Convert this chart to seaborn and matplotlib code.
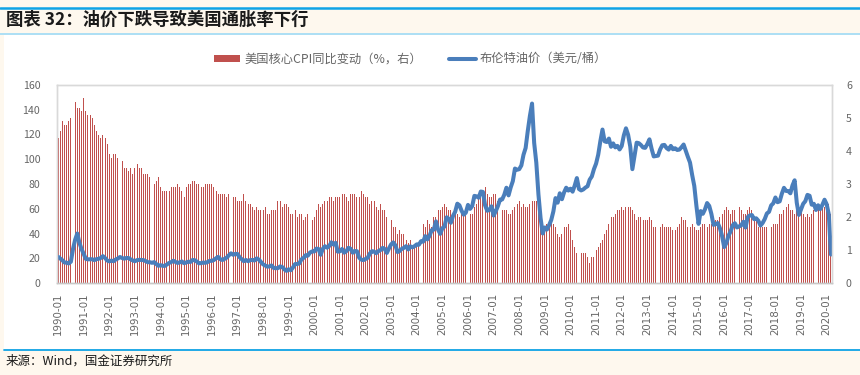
import numpy as np
import pandas as pd
import matplotlib
matplotlib.use('Agg')
import matplotlib.pyplot as plt
import seaborn as sns
from matplotlib.patches import Patch, Rectangle
from matplotlib.lines import Line2D

# monthly, 1990-01 .. 2020-03
start_year = 1990
# US core CPI yoy (%), right axis
core_cpi = [
    4.4, 4.6, 4.9, 4.8, 4.8, 4.9, 5.0, 5.5, 5.5, 5.3, 5.3, 5.2,   # 1990
    5.6, 5.2, 5.1, 5.1, 5.0, 4.8, 4.6, 4.5, 4.4, 4.5, 4.4, 4.2,   # 1991
    3.9, 3.8, 3.9, 3.9, 3.8, 3.8, 3.7, 3.5, 3.5, 3.4, 3.5, 3.3,   # 1992
    3.5, 3.6, 3.5, 3.5, 3.3, 3.3, 3.3, 3.2, 3.2, 3.0, 3.1, 3.2,   # 1993
    2.9, 2.8, 2.8, 2.8, 2.8, 2.9, 2.9, 2.9, 3.0, 2.9, 2.8, 2.6,   # 1994
    2.9, 3.0, 3.0, 3.1, 3.1, 3.0, 3.0, 2.9, 2.9, 3.0, 3.0, 3.0,   # 1995
    3.0, 2.9, 2.8, 2.7, 2.7, 2.7, 2.7, 2.6, 2.7, 2.6, 2.6, 2.6,   # 1996
    2.5, 2.5, 2.5, 2.7, 2.5, 2.4, 2.4, 2.3, 2.2, 2.3, 2.2, 2.2,   # 1997
    2.2, 2.3, 2.1, 2.1, 2.2, 2.2, 2.2, 2.5, 2.5, 2.3, 2.4, 2.4,   # 1998
    2.3, 2.1, 2.1, 2.2, 2.0, 2.1, 2.1, 1.9, 2.0, 2.1, 2.1, 1.9,   # 1999
    2.0, 2.2, 2.4, 2.3, 2.4, 2.5, 2.5, 2.6, 2.6, 2.5, 2.6, 2.6,   # 2000
    2.6, 2.7, 2.7, 2.6, 2.5, 2.7, 2.7, 2.7, 2.6, 2.6, 2.8, 2.7,   # 2001
    2.6, 2.6, 2.4, 2.5, 2.5, 2.3, 2.2, 2.4, 2.2, 2.2, 2.0, 1.9,   # 2002
    1.9, 1.7, 1.7, 1.5, 1.6, 1.5, 1.5, 1.3, 1.2, 1.3, 1.1, 1.1,   # 2003
    1.1, 1.2, 1.6, 1.8, 1.7, 1.9, 1.8, 1.7, 2.0, 2.0, 2.2, 2.2,   # 2004
    2.3, 2.4, 2.3, 2.2, 2.2, 2.0, 2.1, 2.1, 2.0, 2.1, 2.1, 2.2,   # 2005
    2.1, 2.1, 2.1, 2.3, 2.4, 2.6, 2.7, 2.8, 2.9, 2.7, 2.6, 2.6,   # 2006
    2.7, 2.7, 2.5, 2.3, 2.2, 2.2, 2.2, 2.1, 2.1, 2.2, 2.3, 2.4,   # 2007
    2.5, 2.3, 2.4, 2.3, 2.3, 2.4, 2.5, 2.5, 2.5, 2.2, 2.0, 1.8,   # 2008
    1.7, 1.8, 1.8, 1.9, 1.8, 1.7, 1.5, 1.4, 1.5, 1.7, 1.7, 1.8,   # 2009
    1.6, 1.3, 1.1, 0.9, 0.9, 0.9, 0.9, 0.9, 0.8, 0.6, 0.8, 0.8,   # 2010
    1.0, 1.1, 1.2, 1.3, 1.5, 1.6, 1.8, 2.0, 2.0, 2.1, 2.2, 2.2,   # 2011
    2.3, 2.2, 2.3, 2.3, 2.3, 2.2, 2.1, 1.9, 2.0, 2.0, 1.9, 1.9,   # 2012
    1.9, 2.0, 1.9, 1.7, 1.7, 1.6, 1.7, 1.8, 1.7, 1.7, 1.7, 1.7,   # 2013
    1.6, 1.6, 1.7, 1.8, 2.0, 1.9, 1.9, 1.7, 1.7, 1.8, 1.7, 1.6,   # 2014
    1.6, 1.7, 1.8, 1.8, 1.7, 1.8, 1.8, 1.8, 1.9, 1.9, 2.0, 2.1,   # 2015
    2.2, 2.3, 2.2, 2.1, 2.2, 2.2, 2.2, 2.3, 2.2, 2.1, 2.1, 2.2,   # 2016
    2.3, 2.2, 2.0, 1.9, 1.7, 1.7, 1.7, 1.7, 1.7, 1.8, 1.7, 1.8,   # 2017
    1.8, 1.8, 2.1, 2.1, 2.2, 2.3, 2.4, 2.2, 2.2, 2.1, 2.2, 2.2,   # 2018
    2.2, 2.1, 2.0, 2.1, 2.0, 2.1, 2.2, 2.4, 2.4, 2.3, 2.3, 2.3,   # 2019
    2.3, 2.4, 2.1,                                                  # 2020
]
# Brent crude (USD/bbl), left axis
brent = [
    21.2, 19.8, 18.4, 16.6, 16.4, 15.8, 17.2, 27.5, 35.0, 40.0, 32.5, 27.5,   # 1990
    23.6, 19.5, 19.1, 19.2, 19.2, 18.5, 19.3, 19.6, 20.2, 21.7, 20.2, 18.2,   # 1991
    17.5, 18.1, 17.6, 19.0, 19.8, 21.0, 20.2, 19.7, 20.2, 20.2, 19.1, 18.2,   # 1992
    17.6, 18.5, 18.7, 18.6, 18.5, 17.7, 16.8, 16.8, 16.3, 16.9, 15.3, 13.9,   # 1993
    14.4, 13.9, 13.8, 15.0, 16.2, 16.9, 18.0, 17.0, 16.2, 16.7, 17.4, 16.0,   # 1994
    16.6, 17.2, 17.0, 18.6, 18.4, 17.3, 15.9, 16.1, 16.5, 16.3, 16.9, 17.9,   # 1995
    17.9, 18.6, 20.0, 21.1, 19.2, 18.6, 19.6, 20.5, 22.4, 24.0, 22.8, 23.5,   # 1996
    23.5, 20.9, 19.2, 17.6, 18.6, 17.6, 18.5, 18.6, 18.2, 19.9, 19.0, 17.1,   # 1997
    15.1, 14.1, 13.2, 13.4, 14.2, 12.1, 12.0, 12.0, 13.4, 12.9, 11.0, 9.8,    # 1998
    11.1, 10.3, 12.5, 15.3, 15.3, 15.9, 19.1, 20.3, 22.5, 22.1, 24.6, 25.5,   # 1999
    25.5, 27.8, 27.5, 22.8, 27.6, 29.7, 28.5, 29.9, 32.9, 31.1, 32.5, 25.3,   # 2000
    25.6, 27.5, 24.5, 25.7, 28.4, 27.7, 24.5, 25.8, 25.7, 20.5, 18.9, 18.5,   # 2001
    19.4, 20.3, 23.7, 25.7, 25.4, 24.1, 25.7, 26.6, 28.4, 27.5, 24.3, 28.0,   # 2002
    31.2, 32.8, 30.4, 25.0, 25.9, 27.6, 28.4, 29.8, 27.1, 29.6, 28.8, 29.8,   # 2003
    31.2, 30.9, 33.8, 33.4, 37.9, 35.2, 38.2, 42.7, 43.2, 49.8, 43.1, 39.7,   # 2004
    44.3, 45.6, 53.1, 51.9, 48.7, 54.3, 57.6, 64.1, 62.8, 58.4, 55.2, 56.9,   # 2005
    63.1, 59.9, 62.3, 70.4, 70.0, 68.9, 73.9, 73.6, 62.8, 58.4, 59.1, 62.0,   # 2006
    54.5, 58.0, 62.1, 67.4, 67.5, 71.3, 77.0, 70.8, 77.2, 82.3, 92.5, 91.5,   # 2007
    92.0, 95.0, 103.6, 109.1, 122.8, 135.0, 145.0, 113.2, 97.2, 71.6, 52.5, 40.0,  # 2008
    44.9, 43.2, 46.8, 50.9, 57.9, 68.6, 64.9, 72.5, 67.7, 73.2, 77.0, 74.7,   # 2009
    76.2, 73.8, 78.8, 84.8, 75.9, 74.8, 75.6, 77.1, 78.2, 83.5, 86.1, 92.0,   # 2010
    96.5, 103.7, 114.6, 124.0, 114.5, 113.9, 116.7, 110.1, 112.8, 109.6, 110.8, 107.9,  # 2011
    110.7, 119.3, 125.0, 119.8, 110.3, 92.0, 102.6, 113.4, 113.0, 111.5, 109.5, 109.2,  # 2012
    112.3, 116.1, 108.5, 102.3, 102.6, 102.9, 107.9, 111.3, 111.6, 109.1, 107.8, 110.8,  # 2013
    108.1, 108.9, 107.5, 107.8, 109.7, 111.9, 106.9, 101.9, 97.3, 87.3, 78.4, 62.2,     # 2014
    47.8, 58.1, 55.9, 59.5, 64.6, 62.3, 55.9, 47.0, 47.6, 48.4, 44.3, 38.0,   # 2015
    29.0, 32.2, 38.2, 41.6, 46.7, 48.3, 44.9, 45.8, 46.6, 49.5, 44.8, 53.3,   # 2016
    54.6, 54.9, 51.6, 52.3, 50.3, 46.4, 48.5, 51.7, 56.2, 57.5, 62.7, 64.4,   # 2017
    69.1, 65.3, 66.0, 72.1, 76.9, 74.4, 74.3, 72.5, 78.9, 83.0, 64.8, 55.0,   # 2018
    59.4, 64.0, 66.1, 71.2, 70.5, 63.3, 64.0, 59.0, 62.8, 59.7, 63.2, 67.3,   # 2019
    63.7, 55.5, 23.0,                                                           # 2020
]

n = len(core_cpi)
months = pd.date_range(f'{start_year}-01-01', periods=n, freq='MS')
df = pd.DataFrame({'month': np.arange(n), 'cpi': core_cpi, 'brent': brent})

sns.set_style('white')
plt.rcParams['font.family'] = ['Noto Sans CJK SC', 'DejaVu Sans']

bg = '#FEF8EE'
grey_txt = '#666666'
red = '#C0504D'
blue = '#4A7EBB'

fig = plt.figure(figsize=(8.6, 3.75), dpi=100, facecolor=bg)

# white panel + blue rules
fig.patches.append(Rectangle((4 / 860, 1 - 349 / 375), 1, (349 - 35) / 375,
                             transform=fig.transFigure, facecolor='white',
                             edgecolor='none', zorder=-5))
fig.add_artist(Line2D([0, 1], [1 - 8 / 375] * 2, color='#0FA3E6', lw=1.8))
fig.add_artist(Line2D([0, 1], [1 - 34 / 375] * 2, color='#A6DDF5', lw=1.3))
fig.add_artist(Line2D([4 / 860, 1], [1 - 350 / 375] * 2, color='#0FA3E6', lw=1.3))

fig.text(6 / 860, 1 - 20 / 375, '图表 32：油价下跌导致美国通胀率下行',
         fontsize=12.5, fontweight='bold', color='#1A1A1A', va='center')
fig.text(6 / 860, 1 - 361 / 375, '来源：Wind，国金证券研究所',
         fontsize=9, color='#1A1A1A', va='center')

ax = fig.add_axes([57 / 860, 1 - 283 / 375, (832 - 57) / 860, (283 - 85) / 375])
ax.set_facecolor('white')

# bars: core CPI (right scale)
sns.barplot(data=df, x='month', y='cpi', ax=ax, color=red, width=0.45,
            saturation=1, native_scale=True, linewidth=0, errorbar=None)

# line: Brent (left scale)
ax2 = ax.twinx()
sns.lineplot(data=df, x='month', y='brent', ax=ax2, color=blue, linewidth=2.9)

ax.set_ylim(0, 6)
ax.set_xlim(-0.5, n - 0.5)
ax.yaxis.tick_right()
ax.set_yticks(range(0, 7))
ax2.set_ylim(0, 160)
ax2.set_xlim(-0.5, n - 0.5)
ax2.yaxis.tick_left()
ax2.set_yticks(range(0, 161, 20))

ticks = np.arange(0, n, 12)
ax.set_xticks(ticks)
ax.set_xticklabels([months[i].strftime('%Y-%m') for i in ticks], rotation=90,
                   fontsize=7.4, color=grey_txt, family='DejaVu Sans')
ax.tick_params(axis='x', length=0, pad=7)
ax.tick_params(axis='y', length=0, pad=10, labelsize=7.6, labelcolor=grey_txt)
ax2.tick_params(axis='y', length=0, pad=12, labelsize=7.6, labelcolor=grey_txt)
for a in (ax, ax2):
    a.set_xlabel('')
    a.set_ylabel('')
    for s in a.spines.values():
        s.set_color('#D9D9D9')
        s.set_linewidth(1.0)
ax.spines['bottom'].set_color('#C8C8C8')
ax2.spines['bottom'].set_color('#C8C8C8')

handles = [Patch(facecolor=red, edgecolor='none'),
           Line2D([0], [0], color=blue, lw=2.9)]
labels = ['美国核心CPI同比变动（%，右）', '布伦特油价（美元/桶）']
leg = fig.legend(handles, labels, loc='center', bbox_to_anchor=(410 / 860, 1 - 59 / 375),
                 ncol=2, frameon=False, fontsize=8.8, handlelength=2.2,
                 handleheight=0.5, handletextpad=0.3, columnspacing=2.2)
for t in leg.get_texts():
    t.set_color(grey_txt)

fig.savefig('out.png', dpi=100, facecolor=bg)
